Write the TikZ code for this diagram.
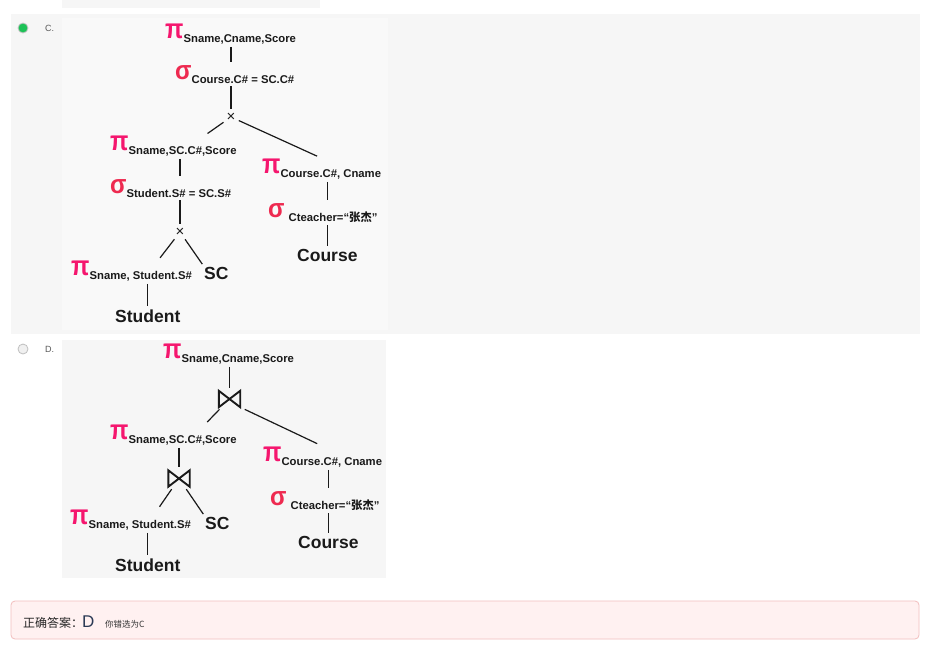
\documentclass[tikz,border=0pt]{standalone}
\usepackage{fontspec}
\setmainfont{Liberation Sans}
\newfontfamily\cjk{Noto Sans CJK SC}
\usetikzlibrary{calc}

\definecolor{picol}{HTML}{F5166E}
\definecolor{sigcol}{HTML}{EE2A50}
\definecolor{panelgray}{HTML}{F6F6F6}
\definecolor{imggray}{HTML}{F9F9F9}
\definecolor{boxpink}{HTML}{FFF1F1}
\definecolor{boxline}{HTML}{F2BEBE}
\definecolor{okgreen}{HTML}{1DC257}
\definecolor{inkcol}{HTML}{1A1A1A}

\newcommand{\subtxt}[1]{\raisebox{-4pt}{\fontsize{11.3}{12}\selectfont\bfseries #1}}
\newcommand{\projop}[1]{{\color{picol}\fontsize{24}{24}\selectfont\bfseries\scalebox{1}[1.15]{π}}\subtxt{#1}}
\newcommand{\selop}[1]{{\color{sigcol}\fontsize{24}{24}\selectfont\bfseries\scalebox{1}[1.1]{σ}}\subtxt{#1}}

\begin{document}
\begin{tikzpicture}[x=1pt, y=-1pt,
    lbl/.style={anchor=base west, inner sep=0pt, text=inkcol},
    rel/.style={lbl, font=\fontsize{17.5}{18}\selectfont\bfseries},
    cross/.style={inner sep=0.5pt, text=inkcol, font=\fontsize{15}{15}\selectfont},
    joinop/.style={minimum width=21pt, minimum height=16pt, inner sep=0pt},
    edge/.style={draw=inkcol, line width=1.2pt, shorten <=3pt, shorten >=3pt},
    bow/.style={draw=inkcol, line width=1.9pt, line join=miter},
    radio/.style={circle, minimum size=10pt, inner sep=0pt, line width=0.8pt}]

    \fill[white] (0,0) rectangle (932,646);
    \useasboundingbox (0,0) rectangle (932,646);

    % page backgrounds
    \fill[panelgray] (62,0) rectangle (320,8);
    \fill[panelgray] (11,14) rectangle (920,334);
    \fill[imggray] (62,18) rectangle (388,330);
    \fill[panelgray] (62,340) rectangle (386,578);

    % option marks
    \node[radio, draw=gray!45, fill=okgreen] (radC) at (23,28) {};
    \node[anchor=base west, inner sep=0pt, text=black!65, font=\fontsize{9}{9}\selectfont] (optC) at (45,31) {C.};
    \node[radio, draw=gray!50, fill=gray!12] (radD) at (23,349) {};
    \node[anchor=base west, inner sep=0pt, text=black!65, font=\fontsize{9}{9}\selectfont] (optD) at (45,352) {D.};

    % tree C
    \node[lbl] (pC1) at (165,38) {\projop{Sname,Cname,Score}};
    \node[lbl] (sC1) at (175,79) {\selop{Course.C\# = SC.C\#}};
    \node[cross] (xC1) at (231,117) {×};
    \node[lbl] (pC2) at (110,150) {\projop{Sname,SC.C\#,Score}};
    \node[lbl] (pC3) at (262,173) {\projop{Course.C\#, Cname}};
    \node[lbl] (sC2) at (110,193) {\selop{Student.S\# = SC.S\#}};
    \node[cross] (xC2) at (180,232) {×};
    \node[lbl] (pC4) at (71,275) {\projop{Sname, Student.S\#}};
    \node[rel] (scC) at (204,279) {SC};
    \node[rel] (stuC) at (115,322) {Student};
    \node[lbl] (sC3) at (268,217) {\selop{\hspace{4pt}Cteacher=“{\cjk 张杰}”}};
    \node[rel] (crsC) at (297,261) {Course};

    \draw[edge] (pC1.south -| xC1) -- (sC1.north -| xC1);
    \draw[edge] (sC1.south -| xC1) -- (xC1);
    \draw[edge] (xC1) -- ($(pC2.north west)!0.75!(pC2.north east)$);
    \draw[edge, shorten >=5pt] (xC1) -- (pC3.north);
    \draw[edge] (pC2.south -| xC2) -- (sC2.north -| xC2);
    \draw[edge] (sC2.south -| xC2) -- (xC2);
    \draw[edge] (xC2) -- ($(pC4.north west)!0.72!(pC4.north east)$);
    \draw[edge] (xC2) -- (scC.north west);
    \draw[edge] (pC4.south -| stuC) -- (stuC);
    \draw[edge] (pC3.south -| crsC) -- (sC3.north -| crsC);
    \draw[edge] (sC3.south -| crsC) -- (crsC);

    % tree D
    \node[lbl] (pD1) at (163,358) {\projop{Sname,Cname,Score}};
    \node[joinop] (jD1) at (229.5,399) {};
    \node[lbl] (pD2) at (110,439) {\projop{Sname,SC.C\#,Score}};
    \node[lbl] (pD3) at (263,461) {\projop{Course.C\#, Cname}};
    \node[joinop] (jD2) at (179,478.5) {};
    \node[lbl] (pD4) at (70,524) {\projop{Sname, Student.S\#}};
    \node[rel] (scD) at (205,529) {SC};
    \node[rel] (stuD) at (115,571) {Student};
    \node[lbl] (sD3) at (270,505) {\selop{\hspace{4pt}Cteacher=“{\cjk 张杰}”}};
    \node[rel] (crsD) at (298,548) {Course};

    \draw[bow] (jD1.north west) -- (jD1.south west) -- (jD1.north east) -- (jD1.south east) -- cycle;
    \draw[bow] (jD2.north west) -- (jD2.south west) -- (jD2.north east) -- (jD2.south east) -- cycle;

    \draw[edge] (pD1.south -| jD1) -- (jD1);
    \draw[edge] (jD1) -- ($(pD2.north west)!0.75!(pD2.north east)$);
    \draw[edge, shorten <=5pt, shorten >=6pt] (jD1.south east) -- (pD3.north);
    \draw[edge] (pD2.south -| jD2) -- (jD2);
    \draw[edge] (jD2) -- ($(pD4.north west)!0.725!(pD4.north east)$);
    \draw[edge] (jD2) -- (scD.north west);
    \draw[edge] (pD4.south -| stuD) -- (stuD);
    \draw[edge] (pD3.south -| crsD) -- (sD3.north -| crsD);
    \draw[edge] (sD3.south -| crsD) -- (crsD);

    % answer box
    \node[draw=boxline, fill=boxpink, rounded corners=4pt, line width=0.8pt,
          minimum width=908pt, minimum height=38pt] (ansbox) at (465,620) {};
    \node[anchor=base west, inner sep=0pt, text=black!85, font=\cjk\fontsize{12}{12}\selectfont] (anslbl) at (23,627) {正确答案：};
    \node[anchor=base west, inner sep=0pt, text={rgb,255:red,43;green,58;blue,85}, font=\fontsize{17}{17}\selectfont] (ansval) at (82,627) {D};
    \node[anchor=base west, inner sep=0pt, text=black!80, font=\cjk\fontsize{8.5}{9}\selectfont] (ansnote) at (105,627) {你错选为C};
\end{tikzpicture}
\end{document}
